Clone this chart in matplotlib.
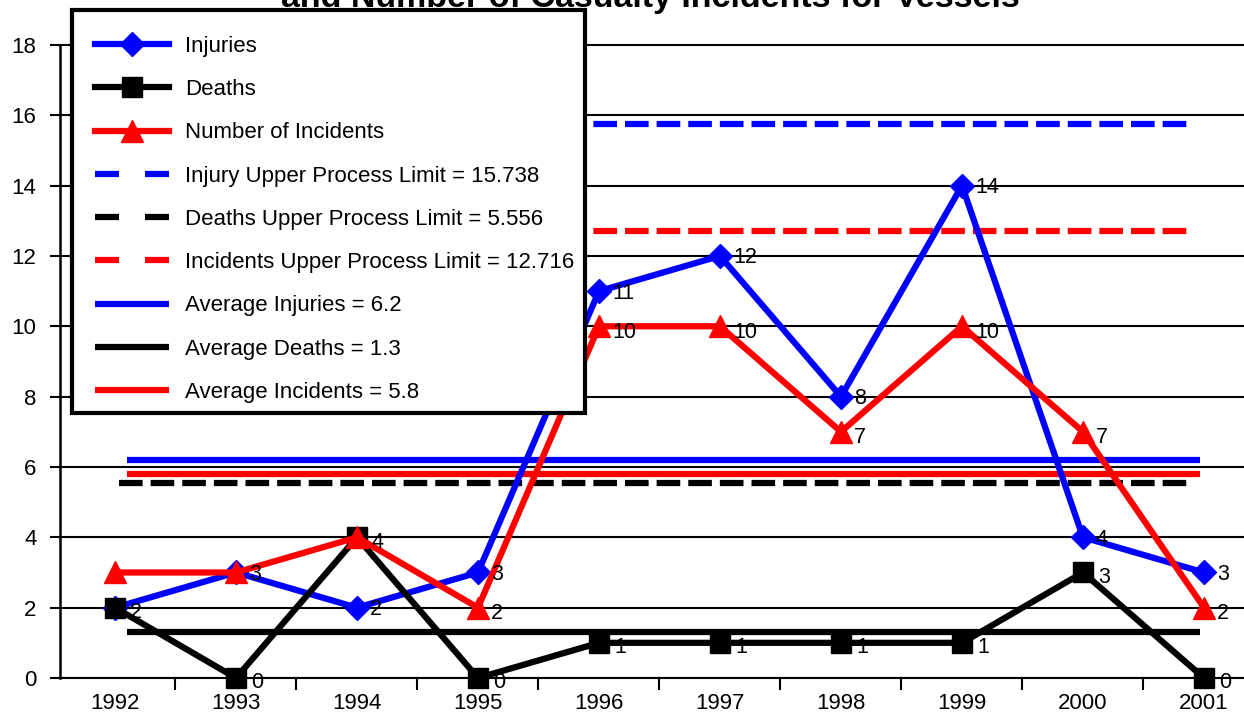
import numpy as np
import matplotlib
matplotlib.use("Agg")
import matplotlib.pyplot as plt
from matplotlib.patches import Rectangle

plt.rcParams['font.family'] = ['Liberation Sans', 'DejaVu Sans']

# values
years = ['1992', '1993', '1994', '1995', '1996', '1997', '1998', '1999', '2000', '2001']
injuries = [2, 3, 2, 3, 11, 12, 8, 14, 4, 3]
deaths = [2, 0, 4, 0, 1, 1, 1, 1, 3, 0]
incidents = [3, 3, 4, 2, 10, 10, 7, 10, 7, 2]

injury_upl = 15.738
deaths_upl = 5.556
incidents_upl = 12.716
avg_injuries = 6.2
avg_deaths = 1.3
avg_incidents = 5.8

# point labels that the reference does not show (hidden / coinciding with another one)
hidden_labels = {('injuries', '1992'), ('incidents', '1992'),
                 ('incidents', '1993'), ('incidents', '1994')}

BLUE = '#0000FF'
RED = '#FF0000'
BLACK = '#000000'

x = np.arange(len(years))

fig = plt.figure(figsize=(12.44, 7.14), dpi=100)
# axes placed so 0..18 spans the same pixels as the reference
ax = fig.add_axes([60 / 1244, 36 / 714, 1184 / 1244, (678 - 41.4) / 714])
ax.set_xlim(-0.4545, 9.3306)
ax.set_ylim(0, 18.1)

# reference lines (limits and averages)
dash = (3.78, 1.28)
ax.plot([x[0] + 0.03, x[-1] - 0.12], [injury_upl] * 2, color=BLUE, lw=4.5,
        dashes=dash, zorder=2, label='Injury Upper Process Limit = 15.738')
ax.plot([x[0] + 0.03, x[-1] - 0.12], [deaths_upl] * 2, color=BLACK, lw=4.5,
        dashes=dash, zorder=2, label='Deaths Upper Process Limit = 5.556')
ax.plot([x[0] + 0.03, x[-1] - 0.12], [incidents_upl] * 2, color=RED, lw=4.5,
        dashes=dash, zorder=2, label='Incidents Upper Process Limit = 12.716')
ax.plot([x[0] + 0.1, x[-1] - 0.03], [avg_injuries] * 2, color=BLUE, lw=4.5,
        solid_capstyle='butt', zorder=2, label='Average Injuries = 6.2')
ax.plot([x[0] + 0.1, x[-1] - 0.03], [avg_deaths] * 2, color=BLACK, lw=4.5,
        solid_capstyle='butt', zorder=2, label='Average Deaths = 1.3')
ax.plot([x[0] + 0.1, x[-1] - 0.03], [avg_incidents] * 2, color=RED, lw=4.5,
        solid_capstyle='butt', zorder=2, label='Average Incidents = 5.8')

# data series
ax.plot(x, injuries, color=BLUE, lw=4.5, marker='D', ms=12, zorder=3,
        clip_on=False, label='Injuries')
ax.plot(x, deaths, color=BLACK, lw=4.5, marker='s', ms=14, zorder=4,
        clip_on=False, label='Deaths')
ax.plot(x, incidents, color=RED, lw=4.5, marker='^', ms=16, zorder=5,
        clip_on=False, label='Number of Incidents')

# point labels
for name, series, dx, dy in [('injuries', injuries, 13, -2),
                             ('deaths', deaths, 15, -5),
                             ('incidents', incidents, 13, -6)]:
    for xi, yr, v in zip(x, years, series):
        if (name, yr) in hidden_labels:
            continue
        ax.annotate(str(v), (xi, v), xytext=(dx, dy), textcoords='offset pixels',
                    ha='left', va='center', fontsize=15.5, zorder=6,
                    annotation_clip=False)

# axes styling
ax.set_yticks(range(0, 19, 2))
ax.yaxis.grid(True, color='black', lw=1.5)
ax.tick_params(axis='y', length=7, width=1.5, pad=10, labelsize=16)
ax.set_xticks(x)
ax.set_xticklabels(years)
ax.set_xticks(x[:-1] + 0.5, minor=True)
ax.tick_params(axis='x', which='major', length=0, pad=10.5, labelsize=16)
ax.tick_params(axis='x', which='minor', length=8.5, width=1.5)
ax.spines['top'].set_visible(False)
ax.spines['right'].set_visible(False)
ax.spines['left'].set_linewidth(1.8)
ax.spines['left'].set_bounds(0, 18)
ax.spines['bottom'].set_linewidth(1.5)

# legend frame drawn separately so its padding can match the reference
fig.add_artist(Rectangle((72 / 1244, 1 - 413 / 714), 513 / 1244, 403 / 714,
                         transform=fig.transFigure, facecolor='white',
                         edgecolor='black', lw=3, zorder=9))

handles, labels = ax.get_legend_handles_labels()
order = ['Injuries', 'Deaths', 'Number of Incidents',
         'Injury Upper Process Limit = 15.738', 'Deaths Upper Process Limit = 5.556',
         'Incidents Upper Process Limit = 12.716', 'Average Injuries = 6.2',
         'Average Deaths = 1.3', 'Average Incidents = 5.8']
hmap = dict(zip(labels, handles))
leg = fig.legend([hmap[k] for k in order], order, loc='upper left',
                 bbox_to_anchor=(95 / 1244, 1 - 36 / 714),
                 borderaxespad=0, borderpad=0, fontsize=16, handlelength=3.35,
                 handletextpad=0.72, labelspacing=1.0, frameon=False, numpoints=1)
leg.set_zorder(10)
for ln in leg.get_lines()[3:6]:
    ln.set_dashes((3.84, 4.16))

fig.text(650 / 1244, 1 - 7 / 714, 'and Number of Casualty Incidents for Vessels',
         ha='center', va='baseline', fontsize=24.5, fontweight='bold')

fig.savefig('out.png', dpi=100)
